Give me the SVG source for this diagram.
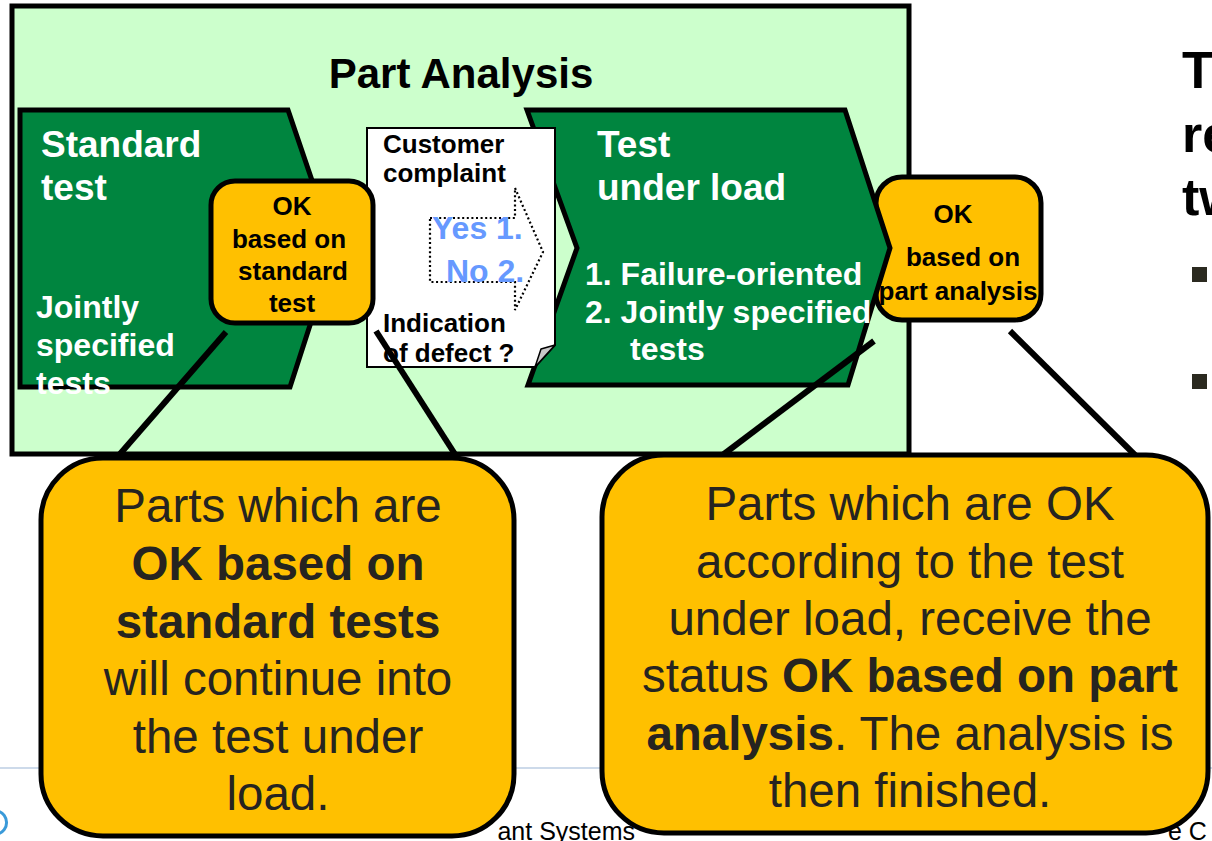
<svg xmlns="http://www.w3.org/2000/svg" width="1212" height="841" viewBox="0 0 1212 841">
  <style>
    text { font-family: "Liberation Sans", Arial, sans-serif; }
    .b { font-weight: bold; }
    .wt { fill: #ffffff; font-weight: bold; }
    .chev { fill: #00853f; stroke: #000; stroke-width: 5; stroke-linejoin: miter; }
    .ok { fill: #ffc000; stroke: #000; stroke-width: 5; }
    .okt { fill: #000; font-weight: bold; font-size: 26px; text-anchor: middle; }
    .call { fill: #ffc000; stroke: #000; stroke-width: 5; }
    .ct { fill: #262420; font-size: 47.5px; text-anchor: middle; }
    .lead { stroke: #000; stroke-width: 6; fill: none; }
    .foot { fill: #000; font-size: 25px; }
  </style>

  <rect width="1212" height="841" fill="#ffffff"/>

  <!-- footer rule and partly hidden footer -->
  <line x1="0" y1="768" x2="1212" y2="768" stroke="#cddaea" stroke-width="2"/>
  <path d="M -2 811 A 12 12 0 0 1 -2 834" fill="none" stroke="#3a9ad9" stroke-width="3"/>
  <text class="foot" x="635" y="840" text-anchor="end">ant Systems</text>
  <text class="foot" x="1168" y="840">e C</text>

  <!-- right-hand heading -->
  <g id="heading">
    <text class="b" x="1182" y="88" font-size="52">T</text>
    <text class="b" x="1182" y="152" font-size="52">re</text>
    <text class="b" x="1182" y="215" font-size="52">tw</text>
    <rect x="1192" y="267" width="15" height="15" fill="#2b2a20"/>
    <rect x="1192" y="374" width="15" height="15" fill="#2b2a20"/>
  </g>

  <!-- frame -->
  <g id="part-analysis">
    <rect x="12" y="6" width="897" height="448" fill="#ccffcc" stroke="#000" stroke-width="5"/>
    <text class="b" x="461" y="88" font-size="42" text-anchor="middle">Part Analysis</text>
  </g>

  <!-- OK after part analysis (sits under the load-test chevron tip) -->
  <g id="ok-part-analysis">
    <rect class="ok" x="876" y="177" width="165" height="143" rx="26"/>
    <text class="okt" x="953" y="223" font-size="30">OK</text>
    <text class="okt" x="963" y="266">based on</text>
    <text class="okt" x="958" y="300">part analysis</text>
  </g>

  <g id="standard-test">
    <polygon class="chev" points="20,110 288,110 335,248 290,387 20,387"/>
    <text class="wt" x="41" y="157" font-size="37">Standard</text>
    <text class="wt" x="41" y="200" font-size="37">test</text>
    <text class="wt" x="36" y="318" font-size="32">Jointly</text>
    <text class="wt" x="36" y="356" font-size="32">specified</text>
    <text class="wt" x="36" y="394" font-size="32">tests</text>
  </g>

  <g id="test-under-load">
    <polygon class="chev" points="527,110 845,110 890,248 848,385 528,385 577,248"/>
    <text class="wt" x="597" y="157" font-size="37">Test</text>
    <text class="wt" x="597" y="200" font-size="37">under load</text>
    <text class="wt" x="585" y="285" font-size="32">1. Failure-oriented</text>
    <text class="wt" x="585" y="323" font-size="32">2. Jointly specified</text>
    <text class="wt" x="630" y="360" font-size="32">tests</text>
  </g>

  <g id="customer-complaint">
    <path d="M367,128 H555 V345 L535,367 H367 Z" fill="#ffffff" stroke="#000" stroke-width="2"/>
    <path d="M555,345 L541,349 L535,367 Z" fill="#c8c8c8" stroke="#000" stroke-width="1.5" stroke-linejoin="round"/>
    <polygon points="430,218 515,218 515,188 543,252 515,310 515,282 430,282" fill="none" stroke="#000" stroke-width="2.2" stroke-dasharray="2 2.6"/>
    <text class="b" x="383" y="153" font-size="26">Customer</text>
    <text class="b" x="383" y="182" font-size="26">complaint</text>
    <text class="b" x="432" y="239" font-size="32" fill="#6699ff">Yes 1.</text>
    <text class="b" x="446" y="282" font-size="32" fill="#6699ff">No 2.</text>
    <text class="b" x="383" y="332" font-size="26">Indication</text>
    <text class="b" x="383" y="362" font-size="26">of defect ?</text>
  </g>

  <g id="ok-standard-test">
    <rect class="ok" x="211" y="181" width="162" height="142" rx="24"/>
    <text class="okt" x="292" y="215" font-size="30">OK</text>
    <text class="okt" x="289" y="248">based on</text>
    <text class="okt" x="293" y="280">standard</text>
    <text class="okt" x="292" y="312">test</text>
  </g>

  <!-- callout leader lines -->
  <g id="connectors">
    <line class="lead" x1="226" y1="332" x2="113" y2="462"/>
    <line class="lead" x1="376" y1="331" x2="460" y2="462"/>
    <line class="lead" x1="874" y1="341" x2="716" y2="460"/>
    <line class="lead" x1="1010" y1="331" x2="1140" y2="460"/>
  </g>

  <g id="callout-standard">
    <rect class="call" x="41" y="458" width="473" height="378" rx="62"/>
    <text class="ct" x="278" y="522">Parts which are</text>
    <text class="ct b" x="278" y="580">OK based on</text>
    <text class="ct b" x="278" y="638">standard tests</text>
    <text class="ct" x="278" y="695">will continue into</text>
    <text class="ct" x="278" y="753">the test under</text>
    <text class="ct" x="278" y="810">load.</text>
  </g>

  <g id="callout-load">
    <rect class="call" x="602" y="455" width="606" height="378" rx="62"/>
    <text class="ct" x="910" y="520">Parts which are OK</text>
    <text class="ct" x="910" y="578">according to the test</text>
    <text class="ct" x="910" y="635">under load, receive the</text>
    <text class="ct" x="910" y="692">status <tspan class="b">OK based on part</tspan></text>
    <text class="ct" x="910" y="750"><tspan class="b">analysis</tspan>. The analysis is</text>
    <text class="ct" x="910" y="807">then finished.</text>
  </g>
</svg>
